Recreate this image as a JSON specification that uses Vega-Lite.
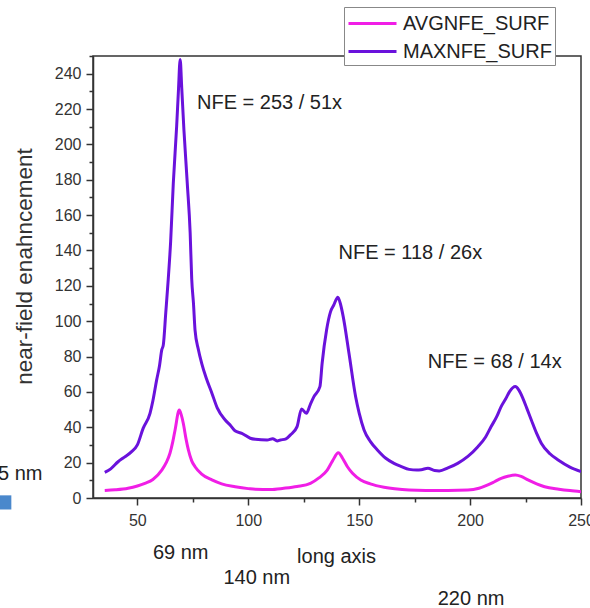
{
  "$schema": "https://vega.github.io/schema/vega-lite/v6.json",
  "width": 488,
  "height": 442,
  "autosize": {"type": "none"},
  "padding": {"left": 93, "top": 56, "right": 9, "bottom": 110},
  "background": "white",
  "config": {
    "font": "Liberation Sans",
    "view": {"stroke": "#333", "strokeWidth": 1.5},
    "axis": {"grid": false, "domainColor": "#333", "domainWidth": 1.5, "tickColor": "#333", "tickWidth": 1.5, "labelColor": "#333", "labelFont": "Liberation Sans", "labelFontSize": 16, "titleFont": "Liberation Sans", "titleFontWeight": "normal", "titleColor": "#333"},
    "legend": {"labelFont": "Liberation Sans"}
  },
  "datasets": {
    "curves": [
      {"x": 35.3, "v": 14.5, "s": "MAXNFE_SURF"},
      {"x": 38, "v": 16.5, "s": "MAXNFE_SURF"},
      {"x": 41.3, "v": 20.5, "s": "MAXNFE_SURF"},
      {"x": 44, "v": 23, "s": "MAXNFE_SURF"},
      {"x": 47.4, "v": 26.2, "s": "MAXNFE_SURF"},
      {"x": 50, "v": 30, "s": "MAXNFE_SURF"},
      {"x": 52.6, "v": 39.4, "s": "MAXNFE_SURF"},
      {"x": 55.7, "v": 47.9, "s": "MAXNFE_SURF"},
      {"x": 57, "v": 55, "s": "MAXNFE_SURF"},
      {"x": 58.7, "v": 66.8, "s": "MAXNFE_SURF"},
      {"x": 60, "v": 75, "s": "MAXNFE_SURF"},
      {"x": 61, "v": 83.8, "s": "MAXNFE_SURF"},
      {"x": 61.7, "v": 86.6, "s": "MAXNFE_SURF"},
      {"x": 62.8, "v": 104.7, "s": "MAXNFE_SURF"},
      {"x": 63.9, "v": 123.4, "s": "MAXNFE_SURF"},
      {"x": 65, "v": 145, "s": "MAXNFE_SURF"},
      {"x": 66.2, "v": 178, "s": "MAXNFE_SURF"},
      {"x": 67.7, "v": 210, "s": "MAXNFE_SURF"},
      {"x": 68.5, "v": 230, "s": "MAXNFE_SURF"},
      {"x": 69.3, "v": 248, "s": "MAXNFE_SURF"},
      {"x": 70, "v": 232, "s": "MAXNFE_SURF"},
      {"x": 71, "v": 208, "s": "MAXNFE_SURF"},
      {"x": 72.5, "v": 178, "s": "MAXNFE_SURF"},
      {"x": 73.8, "v": 150, "s": "MAXNFE_SURF"},
      {"x": 74.5, "v": 124, "s": "MAXNFE_SURF"},
      {"x": 75.3, "v": 110, "s": "MAXNFE_SURF"},
      {"x": 76, "v": 95, "s": "MAXNFE_SURF"},
      {"x": 77.5, "v": 84, "s": "MAXNFE_SURF"},
      {"x": 79, "v": 76.2, "s": "MAXNFE_SURF"},
      {"x": 81, "v": 68, "s": "MAXNFE_SURF"},
      {"x": 83.6, "v": 59.3, "s": "MAXNFE_SURF"},
      {"x": 86, "v": 51, "s": "MAXNFE_SURF"},
      {"x": 89.6, "v": 44.1, "s": "MAXNFE_SURF"},
      {"x": 92, "v": 41, "s": "MAXNFE_SURF"},
      {"x": 94, "v": 38, "s": "MAXNFE_SURF"},
      {"x": 97.1, "v": 36.6, "s": "MAXNFE_SURF"},
      {"x": 100.9, "v": 33.8, "s": "MAXNFE_SURF"},
      {"x": 103.2, "v": 33.2, "s": "MAXNFE_SURF"},
      {"x": 108.5, "v": 32.8, "s": "MAXNFE_SURF"},
      {"x": 111, "v": 33.5, "s": "MAXNFE_SURF"},
      {"x": 113, "v": 32.3, "s": "MAXNFE_SURF"},
      {"x": 114.5, "v": 32.8, "s": "MAXNFE_SURF"},
      {"x": 117, "v": 33.5, "s": "MAXNFE_SURF"},
      {"x": 119, "v": 35.7, "s": "MAXNFE_SURF"},
      {"x": 122, "v": 40.4, "s": "MAXNFE_SURF"},
      {"x": 124, "v": 50.4, "s": "MAXNFE_SURF"},
      {"x": 126.2, "v": 47.9, "s": "MAXNFE_SURF"},
      {"x": 128, "v": 53, "s": "MAXNFE_SURF"},
      {"x": 129.6, "v": 57.3, "s": "MAXNFE_SURF"},
      {"x": 132.3, "v": 63, "s": "MAXNFE_SURF"},
      {"x": 133.3, "v": 76.2, "s": "MAXNFE_SURF"},
      {"x": 135.3, "v": 95, "s": "MAXNFE_SURF"},
      {"x": 137.1, "v": 105.4, "s": "MAXNFE_SURF"},
      {"x": 138.5, "v": 109, "s": "MAXNFE_SURF"},
      {"x": 140.4, "v": 113.6, "s": "MAXNFE_SURF"},
      {"x": 141.5, "v": 110, "s": "MAXNFE_SURF"},
      {"x": 142.8, "v": 102.6, "s": "MAXNFE_SURF"},
      {"x": 145.4, "v": 81.9, "s": "MAXNFE_SURF"},
      {"x": 148.4, "v": 57.3, "s": "MAXNFE_SURF"},
      {"x": 150, "v": 48, "s": "MAXNFE_SURF"},
      {"x": 152.2, "v": 38.5, "s": "MAXNFE_SURF"},
      {"x": 155, "v": 32, "s": "MAXNFE_SURF"},
      {"x": 158.2, "v": 27.2, "s": "MAXNFE_SURF"},
      {"x": 162, "v": 22.5, "s": "MAXNFE_SURF"},
      {"x": 165.7, "v": 19.6, "s": "MAXNFE_SURF"},
      {"x": 169, "v": 17.8, "s": "MAXNFE_SURF"},
      {"x": 172.5, "v": 16.2, "s": "MAXNFE_SURF"},
      {"x": 176, "v": 15.8, "s": "MAXNFE_SURF"},
      {"x": 178, "v": 16, "s": "MAXNFE_SURF"},
      {"x": 181, "v": 16.8, "s": "MAXNFE_SURF"},
      {"x": 184, "v": 15.5, "s": "MAXNFE_SURF"},
      {"x": 186.1, "v": 15.3, "s": "MAXNFE_SURF"},
      {"x": 190, "v": 17, "s": "MAXNFE_SURF"},
      {"x": 194.4, "v": 19.6, "s": "MAXNFE_SURF"},
      {"x": 199, "v": 23.5, "s": "MAXNFE_SURF"},
      {"x": 203.5, "v": 29, "s": "MAXNFE_SURF"},
      {"x": 207, "v": 34.5, "s": "MAXNFE_SURF"},
      {"x": 209.5, "v": 40.4, "s": "MAXNFE_SURF"},
      {"x": 212, "v": 46, "s": "MAXNFE_SURF"},
      {"x": 214, "v": 51.7, "s": "MAXNFE_SURF"},
      {"x": 216, "v": 56, "s": "MAXNFE_SURF"},
      {"x": 217.8, "v": 60.2, "s": "MAXNFE_SURF"},
      {"x": 220.4, "v": 63, "s": "MAXNFE_SURF"},
      {"x": 222, "v": 61, "s": "MAXNFE_SURF"},
      {"x": 223.8, "v": 56.4, "s": "MAXNFE_SURF"},
      {"x": 225.5, "v": 51, "s": "MAXNFE_SURF"},
      {"x": 227.6, "v": 44.1, "s": "MAXNFE_SURF"},
      {"x": 230, "v": 36.5, "s": "MAXNFE_SURF"},
      {"x": 232.1, "v": 31, "s": "MAXNFE_SURF"},
      {"x": 236, "v": 25, "s": "MAXNFE_SURF"},
      {"x": 239.7, "v": 21.5, "s": "MAXNFE_SURF"},
      {"x": 245, "v": 17.5, "s": "MAXNFE_SURF"},
      {"x": 250, "v": 14.9, "s": "MAXNFE_SURF"},
      {"x": 35.3, "v": 4.2, "s": "AVGNFE_SURF"},
      {"x": 40, "v": 4.6, "s": "AVGNFE_SURF"},
      {"x": 45.8, "v": 5.5, "s": "AVGNFE_SURF"},
      {"x": 50, "v": 6.8, "s": "AVGNFE_SURF"},
      {"x": 53.4, "v": 8.3, "s": "AVGNFE_SURF"},
      {"x": 57, "v": 10.5, "s": "AVGNFE_SURF"},
      {"x": 61, "v": 15.8, "s": "AVGNFE_SURF"},
      {"x": 63, "v": 20, "s": "AVGNFE_SURF"},
      {"x": 64.7, "v": 25.3, "s": "AVGNFE_SURF"},
      {"x": 66, "v": 32, "s": "AVGNFE_SURF"},
      {"x": 67, "v": 38.5, "s": "AVGNFE_SURF"},
      {"x": 68.9, "v": 49.8, "s": "AVGNFE_SURF"},
      {"x": 69.8, "v": 47, "s": "AVGNFE_SURF"},
      {"x": 70.7, "v": 42.3, "s": "AVGNFE_SURF"},
      {"x": 72, "v": 33, "s": "AVGNFE_SURF"},
      {"x": 73, "v": 27.2, "s": "AVGNFE_SURF"},
      {"x": 74.5, "v": 21, "s": "AVGNFE_SURF"},
      {"x": 76, "v": 17.7, "s": "AVGNFE_SURF"},
      {"x": 79, "v": 13.5, "s": "AVGNFE_SURF"},
      {"x": 83.6, "v": 10.2, "s": "AVGNFE_SURF"},
      {"x": 88, "v": 8, "s": "AVGNFE_SURF"},
      {"x": 94.1, "v": 6.4, "s": "AVGNFE_SURF"},
      {"x": 100, "v": 5.3, "s": "AVGNFE_SURF"},
      {"x": 103.2, "v": 4.9, "s": "AVGNFE_SURF"},
      {"x": 110, "v": 4.8, "s": "AVGNFE_SURF"},
      {"x": 116, "v": 5.5, "s": "AVGNFE_SURF"},
      {"x": 122, "v": 6.5, "s": "AVGNFE_SURF"},
      {"x": 128, "v": 8.3, "s": "AVGNFE_SURF"},
      {"x": 132, "v": 11.5, "s": "AVGNFE_SURF"},
      {"x": 135.6, "v": 15.8, "s": "AVGNFE_SURF"},
      {"x": 138, "v": 21, "s": "AVGNFE_SURF"},
      {"x": 140.6, "v": 25.6, "s": "AVGNFE_SURF"},
      {"x": 142.5, "v": 22.5, "s": "AVGNFE_SURF"},
      {"x": 144.7, "v": 17.7, "s": "AVGNFE_SURF"},
      {"x": 147, "v": 14, "s": "AVGNFE_SURF"},
      {"x": 150.7, "v": 10.2, "s": "AVGNFE_SURF"},
      {"x": 155, "v": 8, "s": "AVGNFE_SURF"},
      {"x": 161.2, "v": 6.1, "s": "AVGNFE_SURF"},
      {"x": 166, "v": 5.2, "s": "AVGNFE_SURF"},
      {"x": 172.5, "v": 4.5, "s": "AVGNFE_SURF"},
      {"x": 180, "v": 4.3, "s": "AVGNFE_SURF"},
      {"x": 190, "v": 4.3, "s": "AVGNFE_SURF"},
      {"x": 199, "v": 4.5, "s": "AVGNFE_SURF"},
      {"x": 204, "v": 5.5, "s": "AVGNFE_SURF"},
      {"x": 208, "v": 7.4, "s": "AVGNFE_SURF"},
      {"x": 211, "v": 9.2, "s": "AVGNFE_SURF"},
      {"x": 214, "v": 11.1, "s": "AVGNFE_SURF"},
      {"x": 217, "v": 12.3, "s": "AVGNFE_SURF"},
      {"x": 220.4, "v": 13, "s": "AVGNFE_SURF"},
      {"x": 223, "v": 12.2, "s": "AVGNFE_SURF"},
      {"x": 226.1, "v": 10.2, "s": "AVGNFE_SURF"},
      {"x": 230, "v": 8, "s": "AVGNFE_SURF"},
      {"x": 233.6, "v": 6.4, "s": "AVGNFE_SURF"},
      {"x": 240, "v": 5, "s": "AVGNFE_SURF"},
      {"x": 245, "v": 4.2, "s": "AVGNFE_SURF"},
      {"x": 250, "v": 3.6, "s": "AVGNFE_SURF"}
    ],
    "notes": [
      {"x": 76.9, "v": 223.5, "label": "NFE = 253 / 51x"},
      {"x": 140.7, "v": 138.7, "label": "NFE = 118 / 26x"},
      {"x": 180.9, "v": 77, "label": "NFE = 68 / 14x"},
      {"x": 57, "v": -31.1, "label": "69 nm"},
      {"x": 88.8, "v": -45.4, "label": "140 nm"},
      {"x": 122, "v": -33.2, "label": "long axis"},
      {"x": 185.4, "v": -56.9, "label": "220 nm"}
    ],
    "cut": [
      {"x": 7.2, "v": 13.6, "label": "5 nm"}
    ],
    "marker": [
      {"x": -10, "v": -2.5}
    ]
  },
  "layer": [
    {
      "data": {"name": "curves"},
      "mark": {"type": "line", "strokeWidth": 3, "interpolate": "monotone", "clip": true},
      "encoding": {
        "x": {"field": "x", "type": "quantitative", "scale": {"domain": [30, 250], "nice": false, "zero": false},
          "axis": {"orient": "bottom", "values": [50, 100, 150, 200, 250], "title": null, "tickSize": 7, "labelPadding": 7, "labelFlush": false, "labelOverlap": false}},
        "y": {"field": "v", "type": "quantitative", "scale": {"domain": [0, 250], "nice": false, "zero": false},
          "axis": {"orient": "left", "values": [0, 20, 40, 60, 80, 100, 120, 140, 160, 180, 200, 220, 240], "title": "near-field enahncement", "titleFontSize": 22.5, "titleX": -69, "titleY": 210, "titleAngle": -90, "titleAlign": "center", "titleBaseline": "middle", "tickSize": 7, "labelPadding": 5, "labelFlush": false, "labelOverlap": false}},
        "color": {"field": "s", "type": "nominal", "sort": ["AVGNFE_SURF", "MAXNFE_SURF"],
          "scale": {"domain": ["AVGNFE_SURF", "MAXNFE_SURF"], "range": ["#f01ee6", "#6a12dc"]},
          "legend": {"title": null, "orient": "none", "legendX": 251, "legendY": -49, "symbolType": "M-2,0H2", "symbolSize": 576, "symbolOffset": 12, "symbolStrokeWidth": 3, "symbolFillColor": "transparent", "labelFontSize": 20, "labelColor": "#222", "labelOffset": 17, "strokeColor": "#888", "fillColor": "white", "padding": 3, "rowPadding": 4}}
      }
    },
    {
      "data": {"name": "curves"},
      "mark": {"type": "line", "opacity": 0},
      "encoding": {
        "x": {"field": "x", "type": "quantitative", "axis": {"orient": "bottom", "values": [75, 125, 175, 225], "labels": false, "domain": false, "tickSize": 4, "title": null}},
        "y": {"field": "v", "type": "quantitative", "axis": {"orient": "left", "values": [10, 30, 50, 70, 90, 110, 130, 150, 170, 190, 210, 230, 250], "labels": false, "domain": false, "tickSize": 4, "title": null}}
      }
    },
    {
      "data": {"name": "notes"},
      "mark": {"type": "text", "align": "left", "baseline": "middle", "fontSize": 20, "color": "#222"},
      "encoding": {
        "x": {"field": "x", "type": "quantitative", "axis": null},
        "y": {"field": "v", "type": "quantitative", "axis": null},
        "text": {"field": "label"}
      }
    },
    {
      "data": {"name": "cut"},
      "mark": {"type": "text", "align": "right", "baseline": "middle", "fontSize": 20, "color": "#222"},
      "encoding": {
        "x": {"field": "x", "type": "quantitative", "axis": null},
        "y": {"field": "v", "type": "quantitative", "axis": null},
        "text": {"field": "label"}
      }
    },
    {
      "data": {"name": "marker"},
      "mark": {"type": "square", "filled": true, "size": 200, "color": "#4a88cc", "opacity": 1},
      "encoding": {
        "x": {"field": "x", "type": "quantitative", "axis": null},
        "y": {"field": "v", "type": "quantitative", "axis": null}
      }
    }
  ],
  "resolve": {"axis": {"x": "independent", "y": "independent"}}
}
